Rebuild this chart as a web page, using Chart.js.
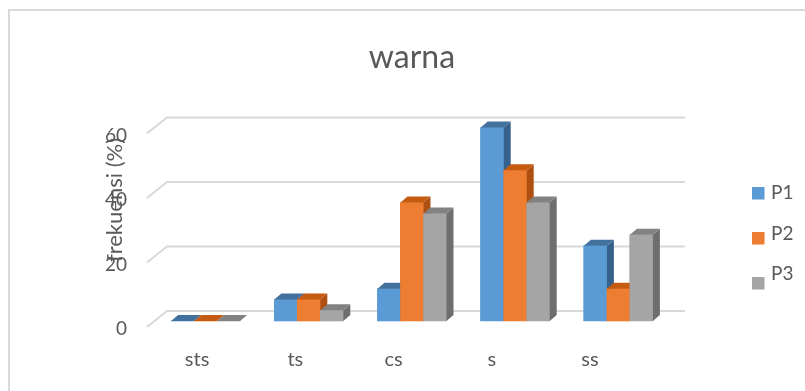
<!DOCTYPE html>
<html>
<head>
<meta charset="utf-8">
<script src="https://cdn.jsdelivr.net/npm/chart.js@4.4.1/dist/chart.umd.min.js"></script>
<style>
  html, body { margin: 0; padding: 0; background: #ffffff; }
  #wrap { width: 805px; height: 391px; position: relative; }
</style>
</head>
<body>
<div id="wrap"><canvas id="c" width="805" height="391"></canvas></div>
<script>
// Response categories and percentages per group
const categories = ['sts', 'ts', 'cs', 's', 'ss'];
const seriesNames = ['P1', 'P2', 'P3'];
const p1 = [0, 6.7, 10, 60, 23.3];
const p2 = [0, 6.7, 36.7, 46.7, 10];
const p3 = [0, 3.3, 33.3, 36.7, 26.7];
const yTicks = [0, 20, 40, 60];
const chartTitle = 'warna';
const yTitle = 'frekuensi (%)';

const FONT = 'Lato, "Open Sans", sans-serif';
const TEXT = '#595959';
const GRID = '#d9d9d9';

// front / top / side shades of each column
const faces = [
  { front: '#5b9bd5', top: '#41719c', side: '#36618a' },
  { front: '#ed7d31', top: '#c55a11', side: '#ae5012' },
  { front: '#a5a5a5', top: '#828282', side: '#6e6e6e' }
];
const depth = { dx: 7, dy: 6 };

const threeD = {
  id: 'threeD',
  beforeDraw(chart) {
    // outer frame (top and left edges)
    const c = chart.ctx;
    c.save();
    c.strokeStyle = GRID;
    c.lineWidth = 2;
    c.beginPath();
    c.moveTo(9, chart.height);
    c.lineTo(9, 10);
    c.lineTo(chart.width, 10);
    c.stroke();
    c.restore();
  },
  beforeDatasetsDraw(chart) {
    // back-wall gridlines with the side-wall diagonal
    const c = chart.ctx, y = chart.scales.y, a = chart.chartArea;
    c.save();
    c.strokeStyle = GRID;
    c.lineWidth = 2;
    yTicks.forEach(v => {
      const py = y.getPixelForValue(v);
      c.beginPath();
      c.moveTo(a.left - 7, py + 6);
      c.lineTo(a.left + 13, py - 10);
      c.lineTo(a.right + 15, py - 10);
      c.stroke();
    });
    c.restore();
  },
  afterDatasetsDraw(chart) {
    const c = chart.ctx;
    const metas = chart.data.datasets.map((d, i) => chart.getDatasetMeta(i));
    for (let j = 0; j < categories.length; j++) {
      metas.forEach((m, i) => {
        const bar = m.data[j];
        bar.draw(c);
        const { x, y, base, width } = bar.getProps(['x', 'y', 'base', 'width'], true);
        const l = x - width / 2, r = x + width / 2;
        c.save();
        c.fillStyle = faces[i].side;
        c.beginPath();
        c.moveTo(r, y);
        c.lineTo(r + depth.dx, y - depth.dy);
        c.lineTo(r + depth.dx, base - depth.dy);
        c.lineTo(r, base);
        c.closePath();
        c.fill();
        c.fillStyle = faces[i].top;
        c.beginPath();
        c.moveTo(l, y);
        c.lineTo(r, y);
        c.lineTo(r + depth.dx, y - depth.dy);
        c.lineTo(l + depth.dx, y - depth.dy);
        c.closePath();
        c.fill();
        c.restore();
      });
    }
  },
  afterDraw(chart) {
    const c = chart.ctx, xs = chart.scales.x;
    c.save();
    c.fillStyle = TEXT;
    // category labels on the front edge of the floor
    c.font = '20px ' + FONT;
    c.textAlign = 'center';
    c.textBaseline = 'alphabetic';
    categories.forEach((cat, i) => {
      const px = xs.getPixelForValue(i);
      c.fillText(cat, 29.8 + (px - 29.8) * 0.9516, 366);
    });
    // value axis title
    c.save();
    c.translate(115, 200);
    c.rotate(-Math.PI / 2);
    c.font = '22px ' + FONT;
    c.textAlign = 'center';
    c.textBaseline = 'middle';
    c.fillText(yTitle, 0, 0);
    c.restore();
    // legend
    c.font = '19px ' + FONT;
    c.textAlign = 'left';
    c.textBaseline = 'middle';
    chart.data.datasets.forEach((ds, i) => {
      c.fillStyle = ds.backgroundColor;
      c.fillRect(752, 187 + 45 * i, 12.5, 12.5);
      c.fillStyle = TEXT;
      c.fillText(ds.label, 771, 193 + 40.5 * i);
    });
    c.restore();
  }
};

new Chart(document.getElementById('c'), {
  type: 'bar',
  data: {
    labels: categories,
    datasets: [
      { label: seriesNames[0], data: p1, backgroundColor: faces[0].front },
      { label: seriesNames[1], data: p2, backgroundColor: faces[1].front },
      { label: seriesNames[2], data: p3, backgroundColor: faces[2].front }
    ]
  },
  options: {
    responsive: false,
    animation: false,
    devicePixelRatio: 1,
    barThickness: 23,
    borderWidth: 0,
    layout: { padding: { left: 0, right: 135, top: 0, bottom: 62 } },
    plugins: {
      legend: { display: false },
      tooltip: { enabled: false },
      title: {
        display: true,
        fullSize: false,
        text: chartTitle,
        color: TEXT,
        font: { family: FONT, size: 32, weight: 'normal' },
        padding: { top: 38, bottom: 51 }
      }
    },
    scales: {
      x: {
        grid: { display: false },
        border: { display: false },
        ticks: { display: false }
      },
      y: {
        min: 0,
        max: 60,
        afterBuildTicks: s => { s.ticks = yTicks.map(v => ({ value: v })); },
        afterFit: s => { s.width = 154; },
        grid: { display: false, drawTicks: false },
        border: { display: false },
        ticks: {
          color: TEXT,
          padding: 27,
          labelOffset: 8,
          font: { family: FONT, size: 19 }
        }
      }
    }
  },
  plugins: [threeD]
});
</script>
</body>
</html>
